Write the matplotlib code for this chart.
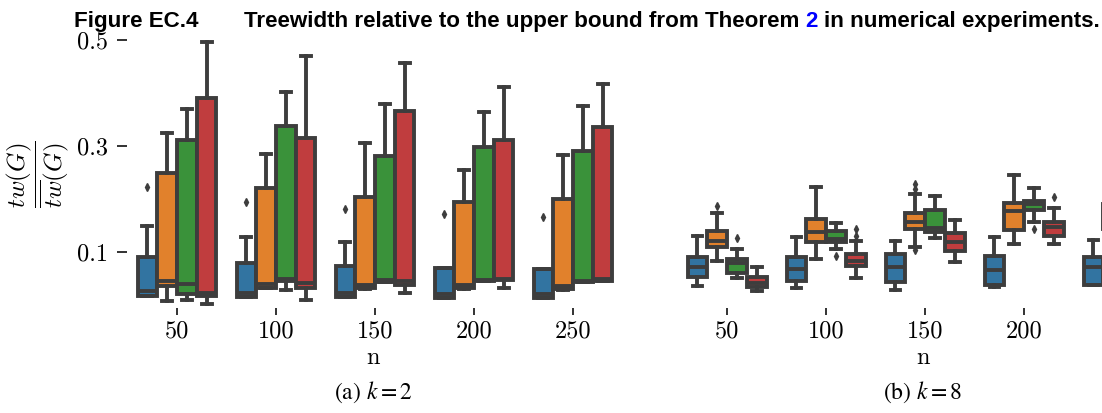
import matplotlib
matplotlib.use("Agg")
import matplotlib.pyplot as plt

# ---- data -------------------------------------------------------------
n_values = [50, 100, 150, 200, 250]
box_colors = ["#3274a1", "#e1812c", "#3a923a", "#c03d3e"]

# k = 2: one row per series (blue, orange, green, red), one column per n
k2_whislo = [[0.017, 0.015, 0.0138, 0.012, 0.012],
             [0.0074, 0.031, 0.029, 0.029, 0.028],
             [0.0087, 0.0276, 0.042, 0.044, 0.042],
             [0.001, 0.0087, 0.0225, 0.032, 0.045]]
k2_q1 = [[0.017, 0.015, 0.0138, 0.012, 0.012],
         [0.035, 0.031, 0.031, 0.031, 0.0295],
         [0.0206, 0.0446, 0.042, 0.044, 0.042],
         [0.017, 0.032, 0.037, 0.046, 0.045]]
k2_med = [[0.026, 0.022, 0.0214, 0.0195, 0.0195],
          [0.045, 0.039, 0.037, 0.037, 0.036],
          [0.0395, 0.049, 0.046, 0.047, 0.045],
          [0.021, 0.040, 0.0446, 0.049, 0.048]]
k2_q3 = [[0.0906, 0.079, 0.073, 0.0686, 0.0667],
         [0.248, 0.220, 0.204, 0.1945, 0.1996],
         [0.311, 0.338, 0.2815, 0.2985, 0.291],
         [0.390, 0.314, 0.365, 0.311, 0.336]]
k2_whishi = [[0.1486, 0.128, 0.119, 0.0686, 0.0667],
             [0.325, 0.285, 0.305, 0.2545, 0.283],
             [0.370, 0.401, 0.379, 0.363, 0.375],
             [0.497, 0.469, 0.456, 0.412, 0.4165]]
k2_fliers = [[[0.223], [0.1945], [0.181], [0.171], [0.165]],
             [[], [], [], [], []],
             [[], [], [], [], []],
             [[], [], [], [], []]]

# k = 8
k8_whislo = [[0.0357, 0.0308, 0.0276, 0.034, 0.037],
             [0.0824, 0.0856, 0.1095, 0.114, 0.120],
             [0.0497, 0.1045, 0.125, 0.157, 0.150],
             [0.0257, 0.0497, 0.080, 0.114, 0.120]]
k8_q1 = [[0.0527, 0.045, 0.0433, 0.037, 0.037],
         [0.108, 0.119, 0.143, 0.141, 0.143],
         [0.059, 0.119, 0.138, 0.179, 0.170],
         [0.034, 0.073, 0.102, 0.1297, 0.135]]
k8_med = [[0.0705, 0.0673, 0.0705, 0.0654, 0.0705],
          [0.121, 0.138, 0.157, 0.177, 0.165],
          [0.078, 0.124, 0.144, 0.190, 0.180],
          [0.0414, 0.083, 0.118, 0.146, 0.145]]
k8_q3 = [[0.0894, 0.0906, 0.0957, 0.092, 0.0906],
         [0.139, 0.162, 0.1726, 0.1926, 0.190],
         [0.0856, 0.139, 0.179, 0.1964, 0.190],
         [0.0527, 0.0957, 0.1348, 0.1556, 0.155]]
k8_whishi = [[0.1297, 0.128, 0.120, 0.128, 0.123],
             [0.1726, 0.223, 0.2085, 0.245, 0.235],
             [0.105, 0.155, 0.2054, 0.220, 0.210],
             [0.0716, 0.121, 0.160, 0.183, 0.175]]
k8_fliers = [[[], [], [], [], []],
             [[0.186], [], [0.103, 0.219, 0.228], [], []],
             [[0.1265], [0.092], [], [0.143], []],
             [[], [0.1297, 0.143], [], [0.204], []]]

y_ticks = [0.1, 0.3, 0.5]

# ---- style ------------------------------------------------------------
plt.rcParams["font.family"] = ["cmr10", "DejaVu Serif"]
plt.rcParams["mathtext.fontset"] = "cm"
plt.rcParams["axes.formatter.use_mathtext"] = True

LINE = "#3d3d3d"
LW = 2.8
W, H = 1102, 413

fig = plt.figure(figsize=(W / 100, H / 100), dpi=100)
ax_l = fig.add_axes([127.5 / W, 105 / H, 495 / W, 273.3 / H])
ax_r = fig.add_axes([677.6 / W, 105 / H, 495 / W, 273.3 / H])


def draw_panel(ax, whislo, q1, med, q3, whishi, fliers):
    n_hue = len(whislo)
    slot = 0.8 / n_hue
    for h in range(n_hue):
        stats = [dict(whislo=whislo[h][i], q1=q1[h][i], med=med[h][i],
                      q3=q3[h][i], whishi=whishi[h][i], fliers=fliers[h][i])
                 for i in range(len(n_values))]
        pos = [i - 0.4 + slot * (h + 0.5) for i in range(len(n_values))]
        ax.bxp(stats, positions=pos, widths=slot * 0.98, patch_artist=True,
               manage_ticks=False,
               boxprops=dict(facecolor=box_colors[h], edgecolor=LINE, linewidth=LW),
               medianprops=dict(color=LINE, linewidth=LW),
               whiskerprops=dict(color=LINE, linewidth=LW),
               capprops=dict(color=LINE, linewidth=LW),
               flierprops=dict(marker="d", markerfacecolor=LINE,
                               markeredgecolor=LINE, markersize=4))
    ax.set_xlim(-0.5, len(n_values) - 0.5)
    ax.set_ylim(-0.0064, 0.51)
    ax.set_xticks(range(len(n_values)))
    ax.set_xticklabels([str(v) for v in n_values])
    ax.set_yticks(y_ticks)
    ax.set_yticklabels([f"{v:.1f}" for v in y_ticks])
    for s in ax.spines.values():
        s.set_visible(False)
    ax.tick_params(axis="x", length=5, width=1.3, pad=4, labelsize=17.5, color="#222222")
    ax.tick_params(axis="y", length=7.2, width=1.3, pad=7, labelsize=17.5, color="#222222")


draw_panel(ax_l, k2_whislo, k2_q1, k2_med, k2_q3, k2_whishi, k2_fliers)
draw_panel(ax_r, k8_whislo, k8_q1, k8_med, k8_q3, k8_whishi, k8_fliers)
ax_r.tick_params(axis="y", left=False, labelleft=False)
# the last group of the right panel runs past the figure edge
ax_r.get_xticklabels()[-1].set_visible(False)

# axis labels and sub-captions
fig.text(38 / W, 1 - 174 / H, r"$\dfrac{tw(G)}{\overline{tw}(G)}$",
         rotation=90, ha="center", va="center", fontsize=18)
for cx, cap in [(373, r"(a) $k=2$"), (923, r"(b) $k=8$")]:
    fig.text(cx / W, 1 - 358 / H, "n", ha="center", va="center", fontsize=17.5)
    fig.text(cx / W, 1 - 392 / H, cap, ha="center", va="center", fontsize=17,
             family=["STIXGeneral", "DejaVu Serif"], math_fontfamily="stix")

# caption line with a coloured reference number
title_kw = dict(fontsize=16.1, fontweight="bold", family="Liberation Sans", va="baseline")
base_y = 1 - 27 / H
fig.text(74 / W, base_y, "Figure EC.4", **title_kw)
renderer = fig.canvas.get_renderer()


def width_px(s):
    t = fig.text(0, 0, s, **title_kw)
    w = t.get_window_extent(renderer).width
    t.remove()
    return w


space = width_px("a a") - width_px("aa")
x = 244.0
parts = [("Treewidth relative to the upper bound from Theorem", "black"),
         ("2", "#0000ff"),
         ("in numerical experiments.", "black")]
for txt, col in parts:
    fig.text(x / W, base_y, txt, color=col, **title_kw)
    x += width_px(txt) + space

fig.savefig("out.png", dpi=100)
